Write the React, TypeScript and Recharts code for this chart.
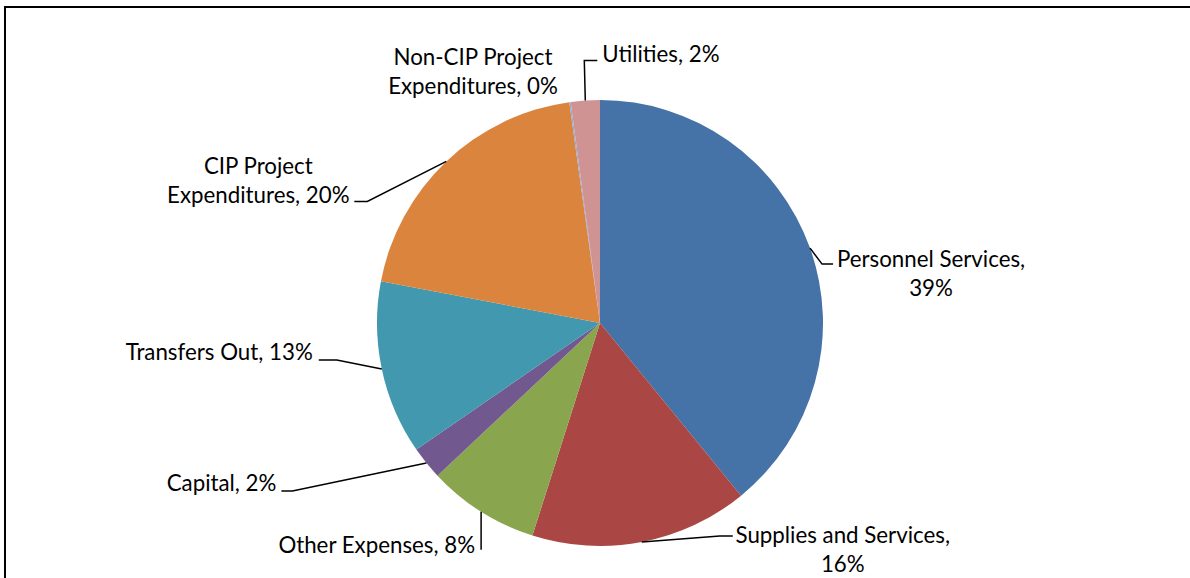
import { PieChart, Pie, Cell } from "recharts";

// ── Data ──
const categories = [
  "Personnel Services",
  "Supplies and Services",
  "Other Expenses",
  "Capital",
  "Transfers Out",
  "CIP Project Expenditures",
  "Non-CIP Project Expenditures",
  "Utilities",
];
const shares = [39.1, 15.8, 8.1, 2.4, 12.6, 19.8, 0.1, 2.1];
const colors = ["#4572A7", "#AA4643", "#89A54E", "#71588F", "#4198AF", "#DB843D", "#93A9CF", "#D09393"];

const data = categories.map((name, i) => ({ name, value: shares[i] }));
const total = shares.reduce((s, v) => s + v, 0);

// ── Label layout (offsets from the slice edge point) ──
// elbow: leader bend, tail: horizontal run, tx/ty: text offset from leader end,
// anchor: text anchor, words: words on the first line (0 = single line)
interface LabelLayout {
  elbow: [number, number] | null;
  tail: number;
  tx: number;
  ty: number;
  anchor: "start" | "middle" | "end";
  words: number;
}
const labelLayout: LabelLayout[] = [
  { elbow: [12, 16], tail: 11, tx: 98, ty: -6, anchor: "middle", words: 2 },
  { elbow: [78, -6], tail: 13, tx: 110, ty: -2, anchor: "middle", words: 3 },
  { elbow: [0, 38], tail: 0, tx: -6, ty: -5, anchor: "end", words: 0 },
  { elbow: [-134, 28], tail: -11, tx: -5, ty: -8, anchor: "end", words: 0 },
  { elbow: [-45, -9], tail: -18, tx: -6, ty: -8, anchor: "end", words: 0 },
  { elbow: [-79, 40], tail: -13, tx: -96, ty: -36, anchor: "middle", words: 2 },
  { elbow: null, tail: 0, tx: -97, ty: -46, anchor: "middle", words: 2 },
  { elbow: [-1, -40], tail: 13, tx: 5, ty: -7, anchor: "start", words: 0 },
];

const RAD = Math.PI / 180;
const LINE_H = 29;

function SliceLabel(props: any) {
  const { cx, cy, midAngle, outerRadius, index } = props;
  const lay = labelLayout[index];
  const ex = cx + outerRadius * Math.cos(-midAngle * RAD);
  const ey = cy + outerRadius * Math.sin(-midAngle * RAD);
  const pct = Math.round((shares[index] / total) * 100);
  const full = `${categories[index]}, ${pct}%`;
  const parts = full.split(" ");
  const lines = lay.words > 0 ? [parts.slice(0, lay.words).join(" "), parts.slice(lay.words).join(" ")] : [full];

  let endX = ex;
  let endY = ey;
  let path = "";
  if (lay.elbow) {
    const bx = ex + lay.elbow[0];
    const by = ey + lay.elbow[1];
    endX = bx + lay.tail;
    endY = by;
    path = `M${ex},${ey}L${bx},${by}L${endX},${endY}`;
  }
  return (
    <g>
      {path && <path d={path} stroke="#000" strokeWidth={1.5} fill="none" />}
      {lines.map((ln, i) => (
        <text
          key={i}
          x={endX + lay.tx}
          y={endY + lay.ty + i * LINE_H}
          textAnchor={lay.anchor}
          dominantBaseline="central"
          fill="#000"
          fontSize={22.3}
          fontFamily="Lato, 'Noto Sans', sans-serif"
        >
          {ln}
        </text>
      ))}
    </g>
  );
}

export default function App() {
  return (
    <div style={{ position: "absolute", left: 0, top: 0, width: 1190, height: 578, overflow: "hidden", background: "#fff" }}>
      <div
        style={{
          position: "absolute",
          left: 4,
          top: 6,
          width: 1220,
          height: 620,
          border: "2px solid #000",
        }}
      />
      <div style={{ position: "absolute", left: 0, top: 0 }}>
        <PieChart width={1190} height={578} margin={{ top: 0, right: 0, bottom: 0, left: 0 }}>
          <Pie
            data={data}
            dataKey="value"
            nameKey="name"
            cx={600}
            cy={323}
            outerRadius={223}
            startAngle={90}
            endAngle={-270}
            stroke="none"
            label={SliceLabel}
            labelLine={false}
            isAnimationActive={false}
          >
            {data.map((d, i) => (
              <Cell key={d.name} fill={colors[i]} />
            ))}
          </Pie>
        </PieChart>
      </div>
    </div>
  );
}
